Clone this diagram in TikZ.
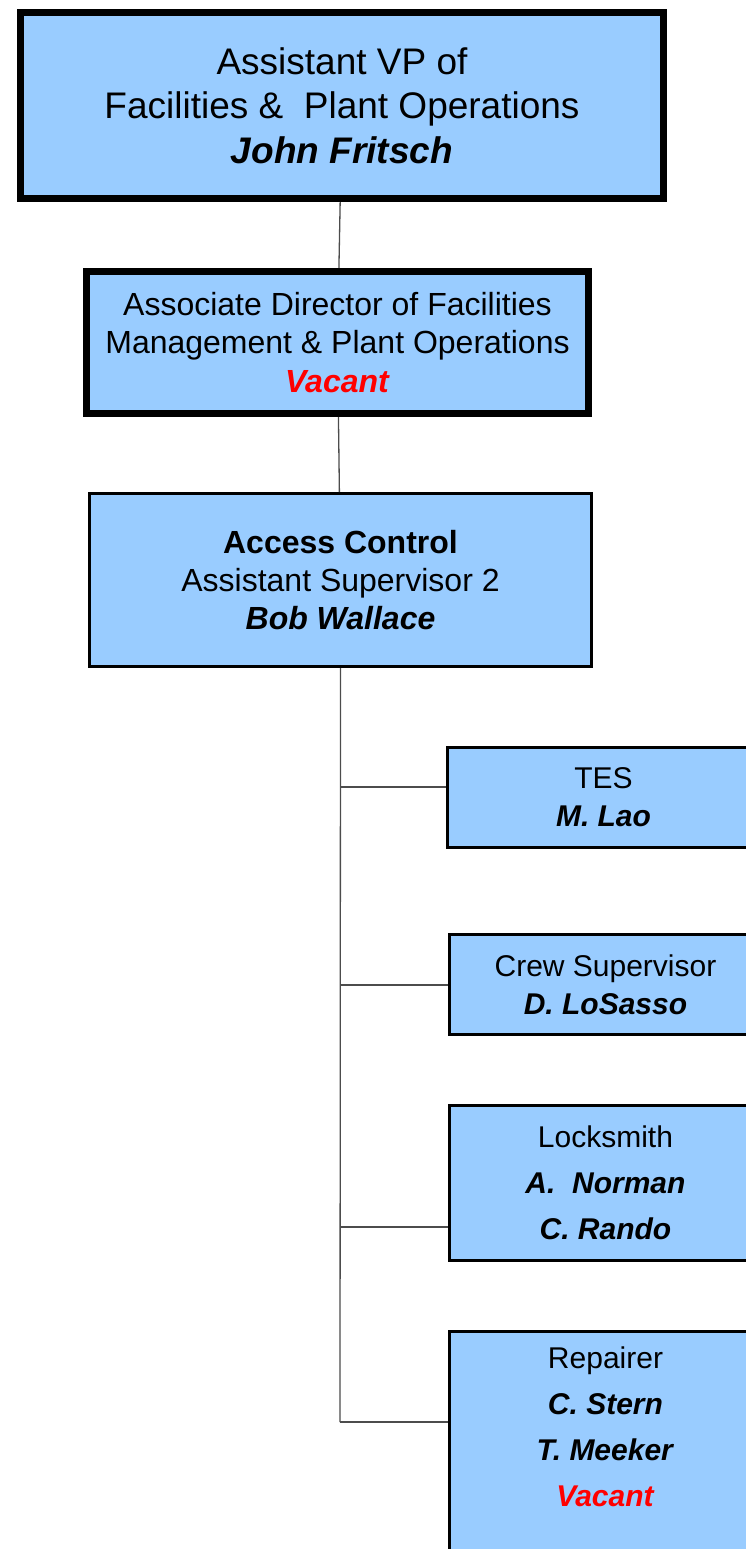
\documentclass[tikz,border=0pt]{standalone}
\usepackage{fontspec}
\setmainfont{Liberation Sans}
\usetikzlibrary{positioning}
\definecolor{boxblue}{HTML}{99CCFF}
\definecolor{vacantred}{HTML}{FF0000}
\tikzset{
	unit/.style={draw=black, fill=boxblue, rectangle, anchor=north west, align=center, inner sep=0pt},
	headunit/.style={unit, line width=7pt},
	subunit/.style={unit, line width=3pt},
	link/.style={draw=black!70, line width=1.3pt}
}
\newcommand{\who}[1]{\textbf{\textit{#1}}}
\newcommand{\vacant}{\textcolor{vacantred}{\who{Vacant}}}

\begin{document}
\begin{tikzpicture}[x=1pt, y=-1pt]
		\useasboundingbox (0,0) rectangle (745,1549);

		\node[headunit, minimum width=643pt, minimum height=186pt, font=\fontsize{37}{44.5}\selectfont] (vp) at (17,9)
			{Assistant VP of\\Facilities \&\ \ Plant Operations\\\who{John Fritsch}};
		\node[headunit, minimum width=502pt, minimum height=142pt, font=\fontsize{32}{38.3}\selectfont] (assoc) at (83,268)
			{Associate Director of Facilities\\Management \& Plant Operations\\\vacant};
		\node[subunit, minimum width=502pt, minimum height=173pt, font=\fontsize{32}{38.3}\selectfont] (access) at (88,492)
			{\textbf{Access Control}\\Assistant Supervisor 2\\\who{Bob Wallace}};

		\node[subunit, minimum width=312pt, minimum height=100pt, font=\fontsize{30}{38}\selectfont] (tes) at (446,746)
			{TES\\\who{M. Lao}};
		\node[subunit, minimum width=312pt, minimum height=100pt, font=\fontsize{30}{38}\selectfont] (crew) at (448,933)
			{Crew Supervisor\\\who{D. LoSasso}};
		\node[subunit, minimum width=312pt, minimum height=155pt, font=\fontsize{30}{46}\selectfont] (lock) at (448,1104)
			{Locksmith\\\who{A.\ \ Norman}\\\who{C. Rando}};
		\node[subunit, minimum width=312pt, minimum height=251pt, font=\fontsize{30}{46}\selectfont] (rep) at (448,1330)
			{Repairer\\\who{C. Stern}\\\who{T. Meeker}\\\vacant\\\strut};

		\draw[link] (vp) -- (assoc);
		\draw[link] (assoc) -- (access);

		% branch points on the trunk
		\coordinate (b_tes) at (340,787);
		\coordinate (b_crew) at (340,985);
		\coordinate (b_lock) at (340,1227);
		\coordinate (b_rep) at (340,1422);

		\draw[link] (access.south) -- (b_rep);
		\draw[link] (b_tes) -- (b_tes -| tes.west);
		\draw[link] (b_crew) -- (b_crew -| crew.west);
		\draw[link] (b_lock) -- (b_lock -| lock.west);
		\draw[link] (b_rep) -- (b_rep -| rep.west);

	\end{tikzpicture}
\end{document}
